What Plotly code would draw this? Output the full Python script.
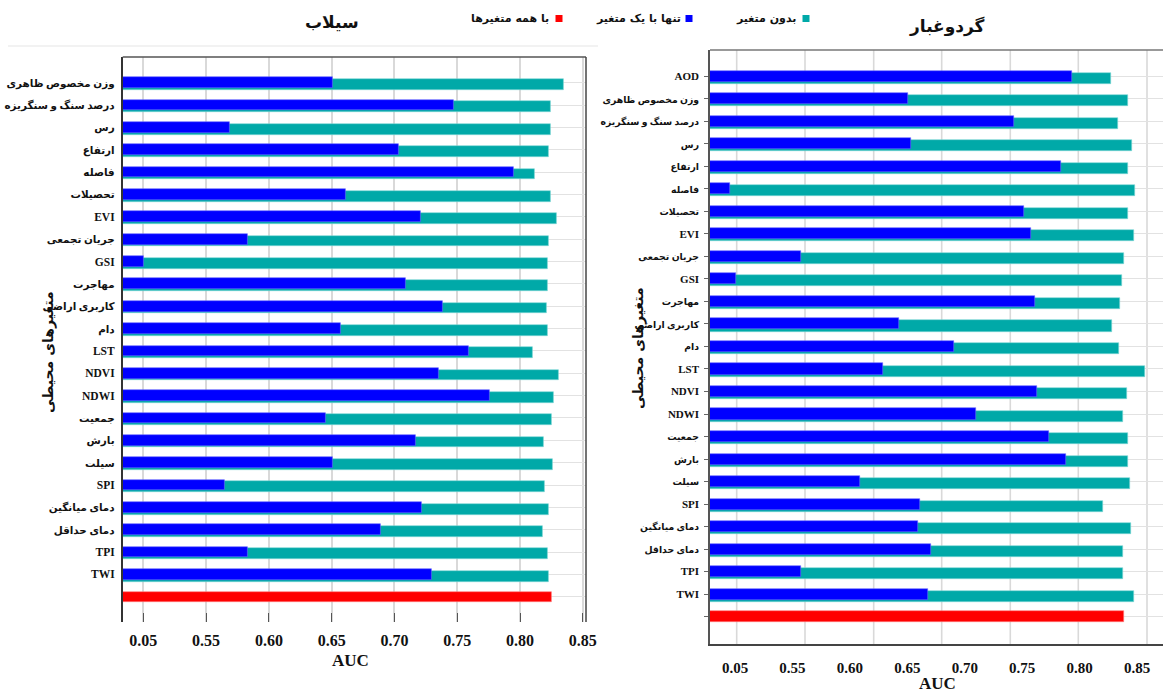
import re
import plotly.graph_objects as go

W, H = 1163, 692

# ---- Flood (سیلاب) model: AUC per environmental variable, listed top to bottom
flood_vars = [
    "وزن مخصوص ظاهری", "درصد سنگ و سنگریزه", "رس", "ارتفاع", "فاصله", "تحصیلات",
    "EVI", "جریان تجمعی", "GSI", "مهاجرت", "کاربری اراضی", "دام", "LST", "NDVI",
    "NDWI", "جمعیت", "بارش", "سیلت", "SPI", "دمای میانگین", "دمای حداقل", "TPI", "TWI",
]
flood_single = [
    0.651, 0.747, 0.569, 0.703, 0.795, 0.661, 0.721, 0.583, 0.500, 0.709, 0.738, 0.657,
    0.759, 0.735, 0.776, 0.645, 0.717, 0.651, 0.565, 0.722, 0.689, 0.583, 0.730,
]
flood_without = [
    0.835, 0.824, 0.824, 0.823, 0.812, 0.824, 0.829, 0.823, 0.822, 0.822, 0.821, 0.822,
    0.810, 0.831, 0.827, 0.825, 0.819, 0.826, 0.820, 0.823, 0.818, 0.822, 0.823,
]
flood_all = 0.825

# ---- Dust (گردوغبار) model
dust_vars = [
    "AOD", "وزن مخصوص ظاهری", "درصد سنگ و سنگریزه", "رس", "ارتفاع", "فاصله", "تحصیلات",
    "EVI", "جریان تجمعی", "GSI", "مهاجرت", "کاربری اراضی", "دام", "LST", "NDVI", "NDWI",
    "جمعیت", "بارش", "سیلت", "SPI", "دمای میانگین", "دمای حداقل", "TPI", "TWI",
]
dust_single = [
    0.793, 0.651, 0.743, 0.653, 0.784, 0.496, 0.752, 0.758, 0.557, 0.501, 0.761, 0.643,
    0.691, 0.629, 0.763, 0.710, 0.773, 0.788, 0.609, 0.661, 0.659, 0.671, 0.557, 0.668,
]
dust_without = [
    0.827, 0.842, 0.833, 0.846, 0.842, 0.848, 0.842, 0.847, 0.839, 0.837, 0.835, 0.828,
    0.834, 0.857, 0.841, 0.838, 0.842, 0.842, 0.844, 0.820, 0.845, 0.838, 0.838, 0.847,
]
dust_all = 0.839

tick_vals = [0.50, 0.55, 0.60, 0.65, 0.70, 0.75, 0.80, 0.85]
tick_text = ["0.05", "0.55", "0.60", "0.65", "0.70", "0.75", "0.80", "0.85"]

TEAL = "#00A9A8"
BLUE = "#0000FF"
RED = "#FF0000"
SERIF = "Liberation Serif, DejaVu Sans"
ARABIC = "DejaVu Sans"


def fx(px):
    return px / W


def fy(py):
    return 1 - py / H


def tick_label(name, fa_size):
    # Persian names are set a little smaller than the Latin index names
    if re.search(r"[\u0600-\u06FF]", name):
        return f'<span style="font-size:{fa_size}px">{name}</span>'
    return name


fig = go.Figure()


def add_panel(names, single, without, full, xa, ya, bw, shift, fa_size):
    n = len(names)
    ypos = [n - i for i in range(n)]
    fig.add_trace(go.Bar(
        orientation="h", x=without, y=ypos, width=bw, offset=-bw / 2 - shift,
        marker=dict(color=TEAL, line=dict(color="#7fd6d5", width=0.6)),
        xaxis=xa, yaxis=ya, showlegend=False, hoverinfo="x+y",
    ))
    fig.add_trace(go.Bar(
        orientation="h", x=single, y=ypos, width=bw, offset=-bw / 2,
        marker=dict(color=BLUE, line=dict(color="#6a6aff", width=0.6)),
        xaxis=xa, yaxis=ya, showlegend=False, hoverinfo="x+y",
    ))
    fig.add_trace(go.Bar(
        orientation="h", x=[full], y=[0], width=bw * 0.95, offset=-bw * 0.95 / 2,
        marker=dict(color=RED, line=dict(color="#ff8080", width=0.6)),
        xaxis=xa, yaxis=ya, showlegend=False, hoverinfo="x",
    ))
    return [0] + ypos, [""] + [tick_label(s, fa_size) for s in names]


fl_vals, fl_text = add_panel(flood_vars, flood_single, flood_without, flood_all,
                             "x", "y", 0.48, 0.08, 10.4)
du_vals, du_text = add_panel(dust_vars, dust_single, dust_without, dust_all,
                             "x2", "y2", 0.49, 0.09, 9.3)

fig.update_layout(
    width=W, height=H, autosize=False,
    margin=dict(l=0, r=0, t=0, b=0),
    paper_bgcolor="white", plot_bgcolor="white",
    barmode="overlay", bargap=0,
    xaxis=dict(
        domain=[fx(122.7), fx(586)], anchor="y", range=[0.4836, 0.8525],
        tickvals=tick_vals, ticktext=tick_text,
        tickfont=dict(family=SERIF, size=16, color="#111", weight="bold"),
        ticks="inside", ticklen=9, tickwidth=1.2, tickcolor="#555",
        showgrid=True, gridcolor="#d9d9d9", gridwidth=1.6,
        showline=False, zeroline=False, ticklabelstandoff=7, automargin=False,
    ),
    yaxis=dict(
        domain=[fy(622), fy(57)], anchor="x", range=[-1.13, 24.15],
        tickvals=fl_vals, ticktext=fl_text,
        tickfont=dict(family=SERIF, size=11.5, color="#111", weight="bold"),
        ticks="", showgrid=True, gridcolor="#e2e2e2", gridwidth=1,
        showline=True, linecolor="#333", linewidth=1.5, zeroline=False,
        ticklabelstandoff=4, automargin=False,
    ),
    xaxis2=dict(
        domain=[fx(710), 1.0], anchor="y2", range=[0.4782, 0.8726],
        tickvals=tick_vals, ticktext=tick_text,
        tickfont=dict(family=SERIF, size=15, color="#111", weight="bold"),
        ticks="", showgrid=False, showline=True, linecolor="#444", linewidth=1.5,
        zeroline=False, ticklabelstandoff=9, automargin=False,
    ),
    yaxis2=dict(
        domain=[fy(644.3), fy(50)], anchor="x2", range=[-1.23, 25.17],
        tickvals=du_vals, ticktext=du_text,
        tickfont=dict(family=SERIF, size=11, color="#111", weight="bold"),
        ticks="outside", ticklen=4, tickcolor="#666",
        showgrid=True, gridcolor="#e2e2e2", gridwidth=1,
        showline=True, linecolor="#555", linewidth=1.5, zeroline=False,
        ticklabelstandoff=3, automargin=False,
    ),
)

shapes = []
# left panel frame: top and right edges
shapes.append(dict(type="line", xref="paper", yref="paper", x0=fx(122.7), x1=fx(586),
                   y0=fy(57), y1=fy(57), line=dict(color="#555", width=1.3)))
shapes.append(dict(type="line", xref="paper", yref="paper", x0=fx(586), x1=fx(586),
                   y0=fy(622), y1=fy(57), line=dict(color="#444", width=1.5)))
# faint rule under the flood title
shapes.append(dict(type="line", xref="paper", yref="paper", x0=fx(8), x1=fx(598),
                   y0=fy(46), y1=fy(46), line=dict(color="#eeeeee", width=1.5)))
# right panel: top edge and vertical grid
shapes.append(dict(type="line", xref="paper", yref="paper", x0=fx(710), x1=1,
                   y0=fy(50), y1=fy(50), line=dict(color="#777", width=1.3)))
for gx in [736.7, 805, 873.7, 941.7, 1010.3, 1078.3, 1147]:
    shapes.append(dict(type="line", xref="paper", yref="paper", x0=fx(gx), x1=fx(gx),
                       y0=fy(644.3), y1=fy(50), layer="below",
                       line=dict(color="#d9d9d9", width=1.6)))
# legend swatches
for cx, col in [(559, RED), (689, BLUE), (806, TEAL)]:
    shapes.append(dict(type="rect", xref="paper", yref="paper",
                       x0=fx(cx - 3.5), x1=fx(cx + 3.5), y0=fy(22), y1=fy(15),
                       fillcolor=col, line=dict(width=0)))
fig.update_layout(shapes=shapes)


def note(text, px, py, font, xanchor="center", angle=0):
    return dict(text=text, x=fx(px), y=fy(py), xref="paper", yref="paper",
                xanchor=xanchor, yanchor="middle", textangle=angle,
                showarrow=False, font=font)


ann = []
title_font = dict(family=ARABIC, size=17, color="#111", weight="bold")
ann.append(note("سیلاب", 332, 22, title_font))
ann.append(note("گردوغبار", 947, 27, title_font))
leg_font = dict(family=ARABIC, size=11, color="#111", weight="bold")
for txt, right_px in [("با همه متغیرها", 551), ("تنها با یک متغیر", 683), ("بدون متغیر", 798)]:
    ann.append(note(txt, right_px, 18, leg_font, xanchor="right"))
ytitle_font = dict(family=ARABIC, size=14, color="#111", weight="bold")
ann.append(note("متغیرهای محیطی", 48, 352, ytitle_font, angle=-90))
ann.append(note("متغیرهای محیطی", 638, 348, ytitle_font, angle=-90))
auc_font = dict(family=SERIF, size=17, color="#111", weight="bold")
ann.append(note("AUC", 350, 660, auc_font))
ann.append(note("AUC", 937, 683, auc_font))
fig.update_layout(annotations=ann)

fig.write_html("out.html")
